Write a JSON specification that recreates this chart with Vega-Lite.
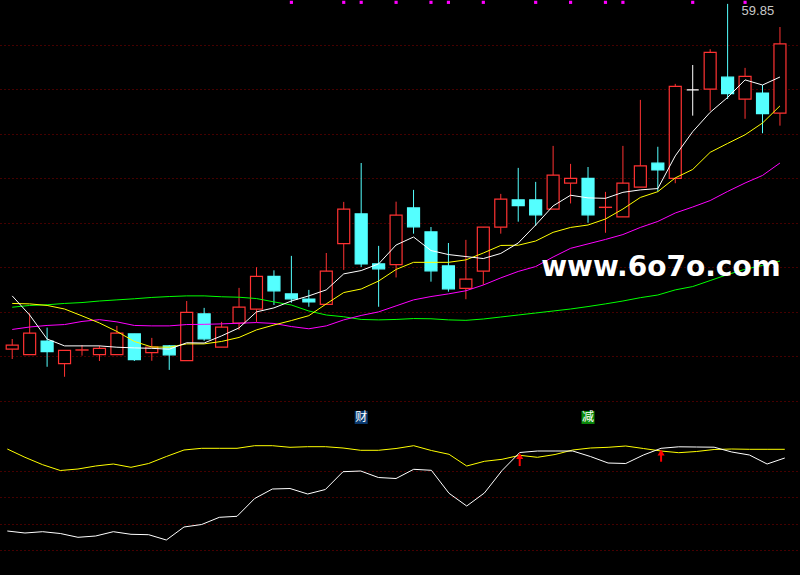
{
  "$schema": "https://vega.github.io/schema/vega-lite/v6.json",
  "background": "#000000",
  "padding": 0,
  "spacing": 0,
  "config": {"view": {"stroke": null}, "axis": {"minExtent": 0}},
  "datasets": {
    "candles": [
      {"i":0,"o":44.31,"h":44.77,"l":43.87,"c":44.49,"dir":"up"},
      {"i":1,"o":44.07,"h":45.93,"l":44.07,"c":45.03,"dir":"up"},
      {"i":2,"o":44.68,"h":45.28,"l":43.52,"c":44.20,"dir":"down"},
      {"i":3,"o":43.66,"h":44.26,"l":43.07,"c":44.26,"dir":"up"},
      {"i":4,"o":44.27,"h":44.50,"l":44.02,"c":44.28,"dir":"up"},
      {"i":5,"o":44.07,"h":44.47,"l":43.78,"c":44.35,"dir":"up"},
      {"i":6,"o":44.07,"h":45.36,"l":44.07,"c":45.03,"dir":"up"},
      {"i":7,"o":45.00,"h":45.00,"l":43.78,"c":43.84,"dir":"down"},
      {"i":8,"o":44.16,"h":44.82,"l":43.79,"c":44.41,"dir":"up"},
      {"i":9,"o":44.46,"h":44.50,"l":43.38,"c":44.06,"dir":"down"},
      {"i":10,"o":43.80,"h":46.48,"l":43.80,"c":45.97,"dir":"up"},
      {"i":11,"o":45.90,"h":46.17,"l":44.69,"c":44.78,"dir":"down"},
      {"i":12,"o":44.40,"h":45.54,"l":44.40,"c":45.30,"dir":"up"},
      {"i":13,"o":45.49,"h":47.07,"l":45.18,"c":46.20,"dir":"up"},
      {"i":14,"o":46.11,"h":48.00,"l":45.54,"c":47.59,"dir":"up"},
      {"i":15,"o":47.59,"h":47.86,"l":46.30,"c":46.94,"dir":"down"},
      {"i":16,"o":46.80,"h":48.51,"l":46.40,"c":46.58,"dir":"down"},
      {"i":17,"o":46.57,"h":46.98,"l":46.22,"c":46.44,"dir":"down"},
      {"i":18,"o":46.33,"h":48.64,"l":46.33,"c":47.82,"dir":"up"},
      {"i":19,"o":49.06,"h":50.94,"l":47.88,"c":50.61,"dir":"up"},
      {"i":20,"o":50.40,"h":52.69,"l":48.01,"c":48.15,"dir":"down"},
      {"i":21,"o":48.15,"h":48.96,"l":46.22,"c":47.93,"dir":"down"},
      {"i":22,"o":48.12,"h":50.95,"l":47.54,"c":50.34,"dir":"up"},
      {"i":23,"o":50.67,"h":51.48,"l":49.51,"c":49.82,"dir":"down"},
      {"i":24,"o":49.59,"h":49.81,"l":47.35,"c":47.84,"dir":"down"},
      {"i":25,"o":48.06,"h":49.09,"l":46.90,"c":47.03,"dir":"down"},
      {"i":26,"o":47.05,"h":49.23,"l":46.56,"c":47.46,"dir":"up"},
      {"i":27,"o":47.82,"h":49.80,"l":47.21,"c":49.80,"dir":"up"},
      {"i":28,"o":49.80,"h":51.30,"l":49.51,"c":51.06,"dir":"up"},
      {"i":29,"o":51.03,"h":52.47,"l":50.05,"c":50.77,"dir":"down"},
      {"i":30,"o":51.03,"h":51.84,"l":49.86,"c":50.36,"dir":"down"},
      {"i":31,"o":50.61,"h":53.46,"l":50.61,"c":52.14,"dir":"up"},
      {"i":32,"o":51.78,"h":52.65,"l":50.87,"c":52.00,"dir":"up"},
      {"i":33,"o":52.00,"h":52.51,"l":50.00,"c":50.36,"dir":"down"},
      {"i":34,"o":50.69,"h":51.39,"l":49.55,"c":50.70,"dir":"up"},
      {"i":35,"o":50.27,"h":53.46,"l":50.27,"c":51.78,"dir":"up"},
      {"i":36,"o":51.60,"h":55.53,"l":51.60,"c":52.56,"dir":"up"},
      {"i":37,"o":52.68,"h":53.42,"l":51.40,"c":52.38,"dir":"down"},
      {"i":38,"o":52.00,"h":56.25,"l":51.78,"c":56.14,"dir":"up"},
      {"i":39,"o":55.98,"h":57.10,"l":54.82,"c":55.98,"dir":"flat"},
      {"i":40,"o":56.01,"h":57.81,"l":55.04,"c":57.67,"dir":"up"},
      {"i":41,"o":56.55,"h":59.85,"l":55.57,"c":55.81,"dir":"down"},
      {"i":42,"o":55.56,"h":56.97,"l":54.68,"c":56.59,"dir":"up"},
      {"i":43,"o":55.84,"h":56.20,"l":54.03,"c":54.91,"dir":"down"},
      {"i":44,"o":54.93,"h":58.81,"l":54.37,"c":58.05,"dir":"up"}
    ],
    "ma": [
      {"i":0,"MA5":46.71,"MA10":46.37,"MA20":45.20,"MA60":46.20},
      {"i":1,"MA5":45.85,"MA10":46.35,"MA20":45.31,"MA60":46.28},
      {"i":2,"MA5":44.77,"MA10":46.28,"MA20":45.38,"MA60":46.31},
      {"i":3,"MA5":44.46,"MA10":46.12,"MA20":45.42,"MA60":46.37},
      {"i":4,"MA5":44.46,"MA10":45.81,"MA20":45.56,"MA60":46.41},
      {"i":5,"MA5":44.46,"MA10":45.49,"MA20":45.64,"MA60":46.48},
      {"i":6,"MA5":44.40,"MA10":45.11,"MA20":45.54,"MA60":46.53},
      {"i":7,"MA5":44.37,"MA10":44.66,"MA20":45.38,"MA60":46.58},
      {"i":8,"MA5":44.35,"MA10":44.41,"MA20":45.36,"MA60":46.64},
      {"i":9,"MA5":44.31,"MA10":44.40,"MA20":45.36,"MA60":46.68},
      {"i":10,"MA5":44.60,"MA10":44.55,"MA20":45.42,"MA60":46.71},
      {"i":11,"MA5":44.59,"MA10":44.55,"MA20":45.43,"MA60":46.71},
      {"i":12,"MA5":44.91,"MA10":44.66,"MA20":45.45,"MA60":46.67},
      {"i":13,"MA5":45.27,"MA10":44.84,"MA20":45.48,"MA60":46.65},
      {"i":14,"MA5":45.99,"MA10":45.18,"MA20":45.51,"MA60":46.59},
      {"i":15,"MA5":46.17,"MA10":45.40,"MA20":45.47,"MA60":46.44},
      {"i":16,"MA5":46.48,"MA10":45.60,"MA20":45.33,"MA60":46.30},
      {"i":17,"MA5":46.71,"MA10":45.82,"MA20":45.23,"MA60":46.03},
      {"i":18,"MA5":46.98,"MA10":46.35,"MA20":45.36,"MA60":45.85},
      {"i":19,"MA5":47.70,"MA10":46.86,"MA20":45.63,"MA60":45.77},
      {"i":20,"MA5":47.85,"MA10":47.02,"MA20":45.83,"MA60":45.65},
      {"i":21,"MA5":48.15,"MA10":47.38,"MA20":45.99,"MA60":45.63},
      {"i":22,"MA5":49.00,"MA10":47.90,"MA20":46.26,"MA60":45.65},
      {"i":23,"MA5":49.36,"MA10":48.22,"MA20":46.53,"MA60":45.69},
      {"i":24,"MA5":48.75,"MA10":48.22,"MA20":46.68,"MA60":45.68},
      {"i":25,"MA5":48.57,"MA10":48.22,"MA20":46.80,"MA60":45.63},
      {"i":26,"MA5":48.48,"MA10":48.33,"MA20":46.94,"MA60":45.61},
      {"i":27,"MA5":48.39,"MA10":48.64,"MA20":47.20,"MA60":45.67},
      {"i":28,"MA5":48.62,"MA10":48.98,"MA20":47.52,"MA60":45.76},
      {"i":29,"MA5":49.09,"MA10":48.99,"MA20":47.81,"MA60":45.85},
      {"i":30,"MA5":49.90,"MA10":49.18,"MA20":48.03,"MA60":45.94},
      {"i":31,"MA5":50.76,"MA10":49.57,"MA20":48.46,"MA60":46.03},
      {"i":32,"MA5":51.24,"MA10":49.79,"MA20":48.85,"MA60":46.12},
      {"i":33,"MA5":51.12,"MA10":49.90,"MA20":49.05,"MA60":46.23},
      {"i":34,"MA5":51.10,"MA10":50.17,"MA20":49.25,"MA60":46.35},
      {"i":35,"MA5":51.37,"MA10":50.62,"MA20":49.47,"MA60":46.48},
      {"i":36,"MA5":51.48,"MA10":51.14,"MA20":49.79,"MA60":46.63},
      {"i":37,"MA5":51.54,"MA10":51.40,"MA20":50.06,"MA60":46.75},
      {"i":38,"MA5":53.01,"MA10":52.02,"MA20":50.44,"MA60":46.98},
      {"i":39,"MA5":54.10,"MA10":52.40,"MA20":50.71,"MA60":47.13},
      {"i":40,"MA5":54.97,"MA10":53.17,"MA20":51.00,"MA60":47.40},
      {"i":41,"MA5":55.64,"MA10":53.57,"MA20":51.41,"MA60":47.67},
      {"i":42,"MA5":56.43,"MA10":53.96,"MA20":51.79,"MA60":47.91},
      {"i":43,"MA5":56.20,"MA10":54.49,"MA20":52.13,"MA60":48.08},
      {"i":44,"MA5":56.56,"MA10":55.26,"MA20":52.69,"MA60":48.28}
    ],
    "osc": [
      {"i":0,"fast":34.44,"slow":96.76},{"i":1,"fast":32.92,"slow":90.45},{"i":2,"fast":33.91,"slow":84.83},
      {"i":3,"fast":32.54,"slow":80.42},{"i":4,"fast":29.65,"slow":81.56},{"i":5,"fast":30.64,"slow":83.84},
      {"i":6,"fast":33.91,"slow":85.36},{"i":7,"fast":31.93,"slow":82.85},{"i":8,"fast":31.63,"slow":85.74},
      {"i":9,"fast":27.60,"slow":91.06},{"i":10,"fast":37.48,"slow":96.00},{"i":11,"fast":39.38,"slow":97.29},
      {"i":12,"fast":44.85,"slow":97.29},{"i":13,"fast":45.61,"slow":97.29},{"i":14,"fast":59.14,"slow":99.27},
      {"i":15,"fast":66.36,"slow":99.27},{"i":16,"fast":66.74,"slow":98.05},{"i":17,"fast":62.56,"slow":98.51},
      {"i":18,"fast":65.98,"slow":98.51},{"i":19,"fast":79.51,"slow":97.52},{"i":20,"fast":80.04,"slow":95.77},
      {"i":21,"fast":75.10,"slow":95.77},{"i":22,"fast":74.34,"slow":97.14},{"i":23,"fast":81.33,"slow":99.27},
      {"i":24,"fast":80.57,"slow":95.62},{"i":25,"fast":63.09,"slow":92.73},{"i":26,"fast":53.44,"slow":83.84},
      {"i":27,"fast":63.32,"slow":87.41},{"i":28,"fast":80.42,"slow":88.93},{"i":29,"fast":94.10,"slow":91.97},
      {"i":30,"fast":95.24,"slow":90.45},{"i":31,"fast":95.24,"slow":92.58},{"i":32,"fast":95.24,"slow":96.00},
      {"i":33,"fast":91.06,"slow":97.52},{"i":34,"fast":86.12,"slow":98.05},{"i":35,"fast":85.74,"slow":99.04},
      {"i":36,"fast":92.20,"slow":97.14},{"i":37,"fast":97.29,"slow":95.24},{"i":38,"fast":98.43,"slow":93.95},
      {"i":39,"fast":98.28,"slow":94.86},{"i":40,"fast":98.13,"slow":96.38},{"i":41,"fast":94.48,"slow":96.76},
      {"i":42,"fast":92.20,"slow":96.53},{"i":43,"fast":85.36,"slow":96.53},{"i":44,"fast":89.92,"slow":96.53}
    ],
    "flags": [{"i":16},{"i":19},{"i":20},{"i":22},{"i":24},{"i":25},{"i":27},{"i":30},{"i":32},{"i":34},{"i":35},{"i":39},{"i":42}],
    "events": [{"i":20,"p":41.24,"t":"财"},{"i":33,"p":41.24,"t":"减"}],
    "maxlabel": [{"i":41,"p":59.85,"t":"59.85"}],
    "watermark": [{"i":30.32,"p":47.6,"t":"www.6o7o.com"}],
    "arrows": [{"i":29,"tip":91.4,"top":90.7,"bot":83.8},{"i":37,"tip":94.1,"top":93.3,"bot":87.1}]
  },
  "vconcat": [
    {
      "width": 800,
      "height": 425,
      "resolve": {"scale": {"fill": "independent"}},
      "layer": [
        {
          "data": {"name": "candles"},
          "mark": {"type": "rule", "strokeWidth": 1},
          "encoding": {
            "x": {"field": "i", "type": "quantitative", "scale": {"domain": [-0.413, 44.862], "nice": false, "zero": false}, "axis": null},
            "y": {"field": "h", "type": "quantitative", "scale": {"domain": [40.9, 60.025], "nice": false, "zero": false}, "title": null,
                  "axis": {"labels": false, "ticks": false, "domain": false, "grid": true, "values": [42,44,46,48,50,52,54,56,58], "gridColor": "#8b0000", "gridDash": [1,3], "gridWidth": 1, "title": null}},
            "y2": {"field": "l"},
            "stroke": {"field": "dir", "type": "nominal", "scale": {"domain": ["up","down","flat"], "range": ["#FF3232","#54FFFF","#FFFFFF"]}, "legend": null}
          }
        },
        {
          "data": {"name": "candles"},
          "mark": {"type": "bar", "orient": "vertical", "size": 12, "strokeWidth": 1.2, "opacity": 1},
          "encoding": {
            "x": {"field": "i", "type": "quantitative", "scale": {"domain": [-0.413, 44.862], "nice": false, "zero": false}, "axis": null},
            "y": {"field": "o", "type": "quantitative", "scale": {"domain": [40.9, 60.025], "nice": false, "zero": false}, "title": null,
                  "axis": {"labels": false, "ticks": false, "domain": false, "grid": true, "values": [42,44,46,48,50,52,54,56,58], "gridColor": "#8b0000", "gridDash": [1,3], "gridWidth": 1, "title": null}},
            "y2": {"field": "c"},
            "fill": {"field": "dir", "type": "nominal", "scale": {"domain": ["up","down","flat"], "range": ["#000000","#54FFFF","#000000"]}, "legend": null},
            "stroke": {"field": "dir", "type": "nominal", "scale": {"domain": ["up","down","flat"], "range": ["#FF3232","#54FFFF","#FFFFFF"]}, "legend": null}
          }
        },
        {
          "data": {"name": "ma"},
          "transform": [{"fold": ["MA60","MA20","MA10","MA5"], "as": ["ma","v"]}],
          "mark": {"type": "line", "strokeWidth": 1, "clip": true},
          "encoding": {
            "x": {"field": "i", "type": "quantitative", "scale": {"domain": [-0.413, 44.862], "nice": false, "zero": false}, "axis": null},
            "y": {"field": "v", "type": "quantitative", "scale": {"domain": [40.9, 60.025], "nice": false, "zero": false}, "title": null,
                  "axis": {"labels": false, "ticks": false, "domain": false, "grid": true, "values": [42,44,46,48,50,52,54,56,58], "gridColor": "#8b0000", "gridDash": [1,3], "gridWidth": 1, "title": null}},
            "color": {"field": "ma", "type": "nominal", "scale": {"domain": ["MA5","MA10","MA20","MA60"], "range": ["#FFFFFF","#FFFF00","#FF00FF","#00FF00"]}, "legend": null},
            "order": {"field": "i", "type": "quantitative"}
          }
        },
        {
          "data": {"name": "flags"},
          "mark": {"type": "point", "shape": "square", "filled": true, "size": 10, "color": "#FF00FF", "opacity": 1},
          "encoding": {
            "x": {"field": "i", "type": "quantitative", "scale": {"domain": [-0.413, 44.862], "nice": false, "zero": false}, "axis": null},
            "y": {"datum": 59.92, "type": "quantitative", "scale": {"domain": [40.9, 60.025], "nice": false, "zero": false}, "title": null,
                  "axis": {"labels": false, "ticks": false, "domain": false, "grid": true, "values": [42,44,46,48,50,52,54,56,58], "gridColor": "#8b0000", "gridDash": [1,3], "gridWidth": 1, "title": null}}
          }
        },
        {
          "data": {"name": "events"},
          "transform": [{"filter": "datum.t === '财'"}],
          "mark": {"type": "point", "shape": "square", "filled": true, "size": 169, "opacity": 1, "color": "#0B3B72"},
          "encoding": {
            "x": {"field": "i", "type": "quantitative", "scale": {"domain": [-0.413, 44.862], "nice": false, "zero": false}, "axis": null},
            "y": {"field": "p", "type": "quantitative", "scale": {"domain": [40.9, 60.025], "nice": false, "zero": false}, "title": null,
                  "axis": {"labels": false, "ticks": false, "domain": false, "grid": true, "values": [42,44,46,48,50,52,54,56,58], "gridColor": "#8b0000", "gridDash": [1,3], "gridWidth": 1, "title": null}}
          }
        },
        {
          "data": {"name": "events"},
          "transform": [{"filter": "datum.t === '减'"}],
          "mark": {"type": "point", "shape": "square", "filled": true, "size": 169, "opacity": 1, "color": "#0A8A0A"},
          "encoding": {
            "x": {"field": "i", "type": "quantitative", "scale": {"domain": [-0.413, 44.862], "nice": false, "zero": false}, "axis": null},
            "y": {"field": "p", "type": "quantitative", "scale": {"domain": [40.9, 60.025], "nice": false, "zero": false}, "title": null,
                  "axis": {"labels": false, "ticks": false, "domain": false, "grid": true, "values": [42,44,46,48,50,52,54,56,58], "gridColor": "#8b0000", "gridDash": [1,3], "gridWidth": 1, "title": null}}
          }
        },
        {
          "data": {"name": "events"},
          "mark": {"type": "text", "color": "#FFFFFF", "font": "Noto Sans CJK SC", "fontSize": 12, "align": "center", "baseline": "middle"},
          "encoding": {
            "x": {"field": "i", "type": "quantitative", "scale": {"domain": [-0.413, 44.862], "nice": false, "zero": false}, "axis": null},
            "y": {"field": "p", "type": "quantitative", "scale": {"domain": [40.9, 60.025], "nice": false, "zero": false}, "title": null,
                  "axis": {"labels": false, "ticks": false, "domain": false, "grid": true, "values": [42,44,46,48,50,52,54,56,58], "gridColor": "#8b0000", "gridDash": [1,3], "gridWidth": 1, "title": null}},
            "text": {"field": "t"}
          }
        },
        {
          "data": {"name": "maxlabel"},
          "mark": {"type": "text", "color": "#C8C8C8", "font": "Liberation Sans", "fontSize": 13, "align": "left", "baseline": "top", "dx": 14, "dy": 1},
          "encoding": {
            "x": {"field": "i", "type": "quantitative", "scale": {"domain": [-0.413, 44.862], "nice": false, "zero": false}, "axis": null},
            "y": {"field": "p", "type": "quantitative", "scale": {"domain": [40.9, 60.025], "nice": false, "zero": false}, "title": null,
                  "axis": {"labels": false, "ticks": false, "domain": false, "grid": true, "values": [42,44,46,48,50,52,54,56,58], "gridColor": "#8b0000", "gridDash": [1,3], "gridWidth": 1, "title": null}},
            "text": {"field": "t"}
          }
        },
        {
          "data": {"name": "watermark"},
          "mark": {"type": "text", "color": "#FFFFFF", "font": "DejaVu Sans", "fontWeight": "bold", "fontSize": 28, "align": "left", "baseline": "alphabetic"},
          "encoding": {
            "x": {"field": "i", "type": "quantitative", "scale": {"domain": [-0.413, 44.862], "nice": false, "zero": false}, "axis": null},
            "y": {"field": "p", "type": "quantitative", "scale": {"domain": [40.9, 60.025], "nice": false, "zero": false}, "title": null,
                  "axis": {"labels": false, "ticks": false, "domain": false, "grid": true, "values": [42,44,46,48,50,52,54,56,58], "gridColor": "#8b0000", "gridDash": [1,3], "gridWidth": 1, "title": null}},
            "text": {"field": "t"}
          }
        }
      ]
    },
    {
      "width": 800,
      "height": 150,
      "layer": [
        {
          "data": {"name": "osc"},
          "transform": [{"fold": ["slow","fast"], "as": ["s","v"]}],
          "mark": {"type": "line", "strokeWidth": 1, "clip": true},
          "encoding": {
            "x": {"field": "i", "type": "quantitative", "scale": {"domain": [-0.413, 44.862], "nice": false, "zero": false}, "axis": null},
            "y": {"field": "v", "type": "quantitative", "scale": {"domain": [1, 115], "nice": false, "zero": false}, "title": null,
                  "axis": {"labels": false, "ticks": false, "domain": false, "grid": true, "values": [20,40,60,80], "gridColor": "#8b0000", "gridDash": [1,3], "gridWidth": 1, "title": null}},
            "color": {"field": "s", "type": "nominal", "scale": {"domain": ["fast","slow"], "range": ["#FFFFFF","#FFFF00"]}, "legend": null},
            "order": {"field": "i", "type": "quantitative"}
          }
        },
        {
          "mark": {"type": "rule", "color": "#B00000", "strokeWidth": 1},
          "encoding": {
            "y": {"datum": 114.6, "type": "quantitative", "scale": {"domain": [1, 115], "nice": false, "zero": false}, "title": null,
                  "axis": {"labels": false, "ticks": false, "domain": false, "grid": true, "values": [20,40,60,80], "gridColor": "#8b0000", "gridDash": [1,3], "gridWidth": 1, "title": null}}
          }
        },
        {
          "data": {"name": "arrows"},
          "mark": {"type": "rule", "color": "#FF0000", "strokeWidth": 2},
          "encoding": {
            "x": {"field": "i", "type": "quantitative", "scale": {"domain": [-0.413, 44.862], "nice": false, "zero": false}, "axis": null},
            "y": {"field": "top", "type": "quantitative", "scale": {"domain": [1, 115], "nice": false, "zero": false}, "title": null,
                  "axis": {"labels": false, "ticks": false, "domain": false, "grid": true, "values": [20,40,60,80], "gridColor": "#8b0000", "gridDash": [1,3], "gridWidth": 1, "title": null}},
            "y2": {"field": "bot"}
          }
        },
        {
          "data": {"name": "arrows"},
          "mark": {"type": "point", "shape": "triangle-up", "filled": true, "size": 50, "color": "#FF0000", "opacity": 1},
          "encoding": {
            "x": {"field": "i", "type": "quantitative", "scale": {"domain": [-0.413, 44.862], "nice": false, "zero": false}, "axis": null},
            "y": {"field": "tip", "type": "quantitative", "scale": {"domain": [1, 115], "nice": false, "zero": false}, "title": null,
                  "axis": {"labels": false, "ticks": false, "domain": false, "grid": true, "values": [20,40,60,80], "gridColor": "#8b0000", "gridDash": [1,3], "gridWidth": 1, "title": null}}
          }
        }
      ]
    }
  ]
}
